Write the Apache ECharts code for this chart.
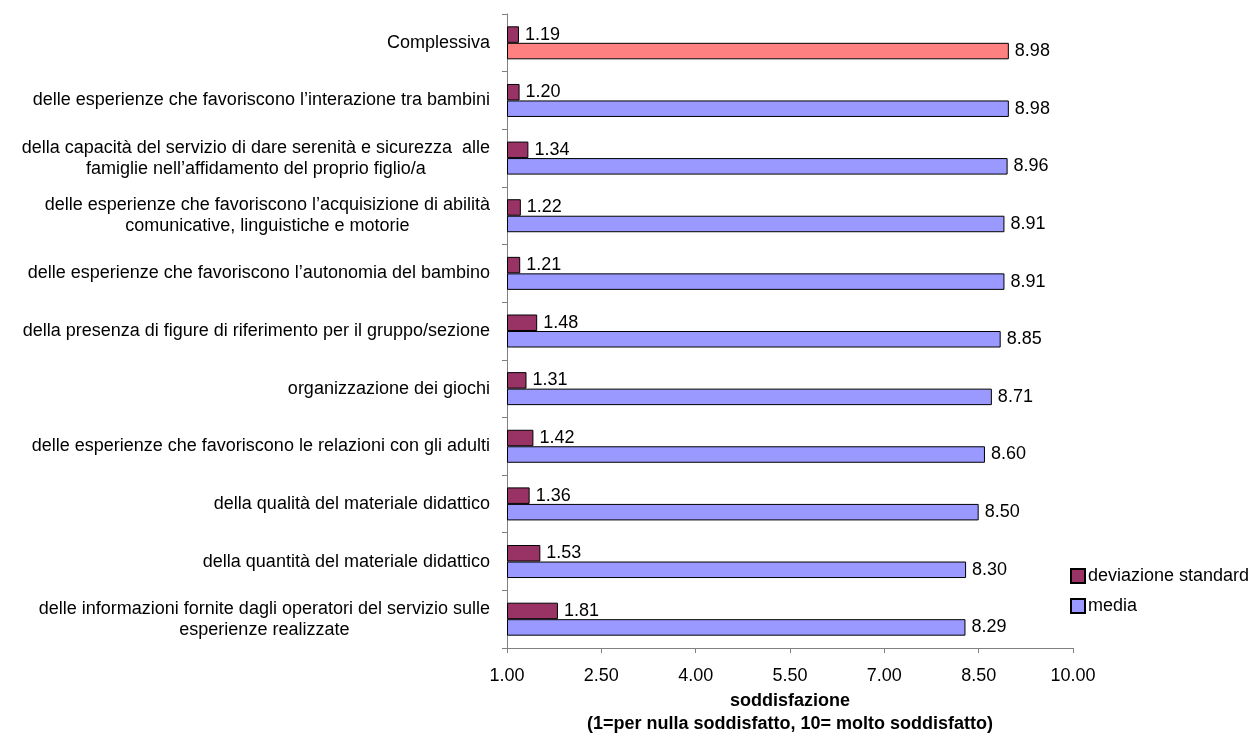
<!DOCTYPE html>
<html><head><meta charset="utf-8">
<script src="https://cdn.jsdelivr.net/npm/echarts@6/dist/echarts.min.js"></script>
<style>html,body{margin:0;padding:0;background:#fff}#c{width:1254px;height:734px}</style>
</head><body><div id="c"></div>
<script>
const categories = [
  "Complessiva",
  "delle esperienze che favoriscono l’interazione tra bambini",
  "della capacità del servizio di dare serenità e sicurezza  alle\nfamiglie nell’affidamento del proprio figlio/a",
  "delle esperienze che favoriscono l’acquisizione di abilità\ncomunicative, linguistiche e motorie",
  "delle esperienze che favoriscono l’autonomia del bambino",
  "della presenza di figure di riferimento per il gruppo/sezione",
  "organizzazione dei giochi",
  "delle esperienze che favoriscono le relazioni con gli adulti",
  "della qualità del materiale didattico",
  "della quantità del materiale didattico",
  "delle informazioni fornite dagli operatori del servizio sulle\nesperienze realizzate"
];
const devStd = [1.19, 1.20, 1.34, 1.22, 1.21, 1.48, 1.31, 1.42, 1.36, 1.53, 1.81];
const media = [8.98, 8.98, 8.96, 8.91, 8.91, 8.85, 8.71, 8.60, 8.50, 8.30, 8.29];
const seriesNames = ["deviazione standard", "media"];
const axisName = "soddisfazione\n(1=per nulla soddisfatto, 10= molto soddisfatto)";

const FONT = "Liberation Sans, Arial, sans-serif";
const FS = 18;
const chart = echarts.init(document.getElementById('c'), null, {renderer: 'canvas'});
const mediaData = media.map((v, i) => i === 0 ? {value: v, itemStyle: {color: '#FF8080'}} : v);
const labelCfg = {show: true, position: 'right', distance: 6, color: '#000', fontSize: FS, fontFamily: FONT,
  formatter: p => Number(p.value).toFixed(2)};
chart.setOption({
  animation: false,
  textStyle: {fontFamily: FONT},
  grid: {left: 507, right: 181, top: 14, bottom: 86, containLabel: false, outerBoundsMode: 'none'},
  legend: {
    orient: 'vertical', left: 1065, top: 562, itemWidth: 14, itemHeight: 14, itemGap: 12,
    icon: 'rect', data: seriesNames,
    textStyle: {fontSize: FS, color: '#000', fontFamily: FONT, padding: [0, 0, 0, -2]}
  },
  xAxis: {
    type: 'value', min: 1, max: 10, interval: 1.5, startValue: 1,
    axisLine: {show: true, lineStyle: {color: '#808080', width: 1}},
    axisTick: {show: true, length: 5, lineStyle: {color: '#808080'}},
    splitLine: {show: false},
    axisLabel: {formatter: v => v.toFixed(2), fontSize: FS, color: '#000', margin: 19, fontFamily: FONT},
    name: axisName, nameLocation: 'middle', nameGap: 36,
    nameTextStyle: {fontWeight: 'bold', fontSize: FS, color: '#000', lineHeight: 23, fontFamily: FONT}
  },
  yAxis: {
    type: 'category', data: categories, inverse: true,
    axisLine: {show: true, lineStyle: {color: '#808080', width: 1}},
    axisTick: {show: true, length: 5, lineStyle: {color: '#808080'}},
    axisLabel: {
      fontSize: FS, color: '#000', margin: 17, fontFamily: FONT,
      formatter: v => v.split('\n').map(s => '{c|' + s + '}').join('\n'),
      rich: {c: {align: 'center', fontSize: FS, color: '#000', lineHeight: 21, fontFamily: FONT}}
    }
  },
  series: [
    {name: seriesNames[0], type: 'bar', data: devStd, barWidth: 16.5, barGap: '0%', clip: true,
     itemStyle: {color: '#993366', borderColor: '#000', borderWidth: 1}, label: labelCfg},
    {name: seriesNames[1], type: 'bar', data: mediaData, barWidth: 16.5, barGap: '0%', clip: true,
     itemStyle: {color: '#9999FF', borderColor: '#000', borderWidth: 1}, label: labelCfg}
  ]
});
</script></body></html>
